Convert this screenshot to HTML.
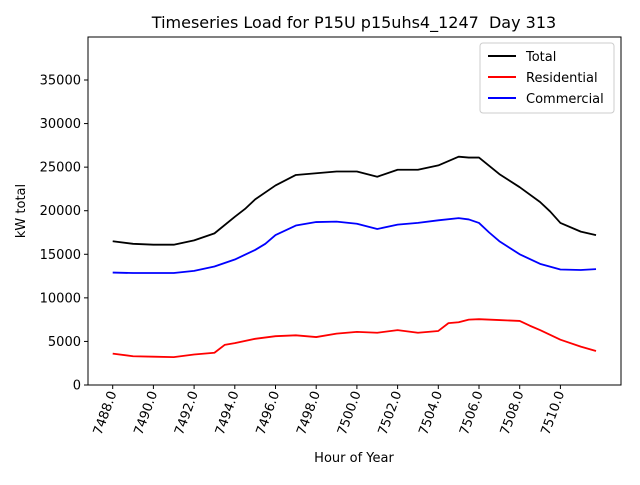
<!DOCTYPE html>
<html><head><meta charset="utf-8"><style>
body{margin:0;background:#fff;}
svg text{font-family:"DejaVu Sans","Liberation Sans",sans-serif;}
</style></head><body>
<svg id="chart" width="640" height="480" xmlns="http://www.w3.org/2000/svg">
<rect width="640" height="480" fill="#fff"/>
<text x="354" y="28" font-size="16" text-anchor="middle" xml:space="preserve" style="white-space:pre">Timeseries Load for P15U p15uhs4_1247  Day 313</text>
<g id="series"></g>
<rect x="88" y="37" width="533" height="348" fill="none" stroke="#000" stroke-width="1"/>
<g id="yaxis"></g><g id="xaxis"></g>
<text transform="translate(25,211) rotate(-90)" font-size="13" text-anchor="middle">kW total</text>
<text x="354" y="462" font-size="13" text-anchor="middle">Hour of Year</text>
<g>
<rect x="480" y="43" width="134" height="70" fill="#fff" stroke="#ccc" rx="3"/>
<line x1="488" y1="56" x2="516" y2="56" stroke="#000" stroke-width="2"/>
<text x="526" y="61" font-size="13">Total</text>
<line x1="488" y1="77" x2="516" y2="77" stroke="red" stroke-width="2"/>
<text x="526" y="82" font-size="13">Residential</text>
<line x1="488" y1="98" x2="516" y2="98" stroke="blue" stroke-width="2"/>
<text x="526" y="103" font-size="13">Commercial</text>
</g>
</svg>
<script>
const totalHours=[7488,7489,7490,7491,7492,7493,7494,7494.5,7495,7496,7497,7498,7499,7500,7501,7502,7503,7504,7505,7505.5,7506,7507,7508,7509,7509.5,7510,7511,7511.75];
const totalValues=[16500,16200,16100,16100,16600,17400,19300,20200,21300,22900,24100,24300,24500,24500,23900,24700,24700,25200,26200,26100,26100,24200,22700,21000,19900,18600,17600,17200];
const resHours=[7488,7489,7490,7491,7492,7493,7493.5,7494,7495,7496,7497,7498,7499,7500,7501,7502,7503,7504,7504.5,7505,7505.5,7506,7507,7508,7508.5,7509,7510,7511,7511.75];
const resValues=[3600,3300,3250,3200,3500,3700,4600,4800,5300,5600,5700,5500,5900,6100,6000,6300,6000,6200,7100,7200,7500,7550,7450,7350,6800,6300,5200,4400,3900];
const comHours=[7488,7489,7490,7491,7492,7493,7494,7495,7495.5,7496,7497,7498,7499,7500,7501,7502,7503,7504,7505,7505.5,7506,7506.5,7507,7508,7509,7510,7511,7511.75];
const comValues=[12900,12850,12850,12850,13100,13600,14400,15500,16200,17200,18300,18700,18750,18500,17900,18400,18600,18900,19150,19000,18600,17500,16500,15000,13900,13250,13200,13300];
const yTicks=[0,5000,10000,15000,20000,25000,30000,35000];
const xTicks=[7488,7490,7492,7494,7496,7498,7500,7502,7504,7506,7508,7510];
const NS="http://www.w3.org/2000/svg";
function xs(h){return 112.7+(h-7488)*20.35;}
function ys(v){return 385-v*(305/35000);}
function mk(t,a,p){const e=document.createElementNS(NS,t);for(const k in a)e.setAttribute(k,a[k]);p.appendChild(e);return e;}
const ya=document.getElementById('yaxis');
yTicks.forEach(v=>{
 const l=mk('line',{x1:84,x2:88,y1:ys(v),y2:ys(v),stroke:'#000'},ya);
 
 
 const t=mk('text',{x:81,y:ys(v)+4.5,'font-size':13,'text-anchor':'end'},ya);
 t.textContent=v;
 
 
});
const xa=document.getElementById('xaxis');
xTicks.forEach(h=>{
 const l=mk('line',{x1:xs(h),x2:xs(h),y1:385,y2:389,stroke:'#000'},xa);
 
 
 const t=mk('text',{transform:`translate(${xs(h)+4},393) rotate(-70)`,'font-size':13,'text-anchor':'end'},xa);
 t.textContent=h.toFixed(1);
 
 
});
const sg=document.getElementById('series');
[[totalHours,totalValues,'#000','total-line'],[resHours,resValues,'red','residential-line'],[comHours,comValues,'blue','commercial-line']].forEach(([hs,vs,c,n])=>{
 const p=mk('polyline',{points:hs.map((h,i)=>xs(h)+','+ys(vs[i])).join(' '),fill:'none',stroke:c,'stroke-width':1.8,'stroke-linejoin':'round'},sg);
 
 
});
</script>
</body></html>
